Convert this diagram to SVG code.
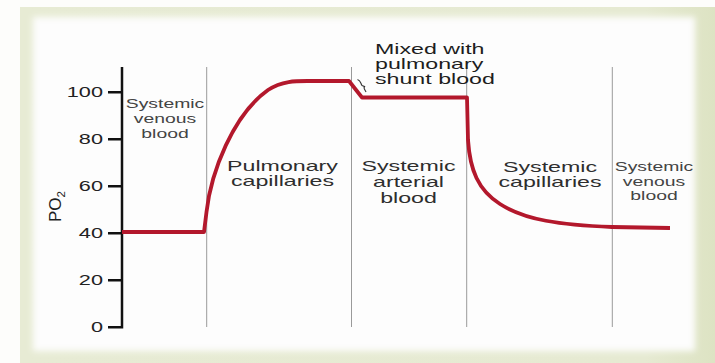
<svg xmlns="http://www.w3.org/2000/svg" width="715" height="363" viewBox="0 0 715 363">
<defs>
<filter id="soft" x="-5%" y="-5%" width="110%" height="110%"><feGaussianBlur stdDeviation="3"/></filter>
<linearGradient id="frameG" x1="0" y1="0" x2="1" y2="0">
<stop offset="0" stop-color="#e7ebd4"/><stop offset="0.9" stop-color="#e6ead2"/><stop offset="1" stop-color="#dde3c3"/>
</linearGradient>
<style>
text{font-family:"Liberation Sans",Arial,sans-serif;}
.tick{font-size:14px;fill:#222;text-anchor:end;}
.lab{font-size:14.5px;fill:#2e2e2e;text-anchor:middle;}
.small{font-size:12.5px;fill:#444;text-anchor:middle;}
.note{font-size:14.5px;fill:#1e1e1e;text-anchor:start;}
.grid{stroke:#9a9a9a;stroke-width:1;}
.axis{stroke:#111;stroke-width:2.5;fill:none;}
.curve{stroke:#b3182c;stroke-width:3.8;fill:none;stroke-linejoin:round;stroke-linecap:butt;}
</style>
</defs>
<rect x="0" y="0" width="715" height="363" fill="#fdfdfb"/>
<rect x="20" y="7" width="695" height="356" fill="url(#frameG)"/>
<rect x="33" y="17" width="662" height="334" fill="#fdfdfd" filter="url(#soft)"/>

<g id="grid">
<line class="grid" x1="206.7" y1="67" x2="206.7" y2="327"/>
<line class="grid" x1="351.5" y1="67" x2="351.5" y2="327"/>
<line class="grid" x1="466.7" y1="67" x2="466.7" y2="327"/>
<line class="grid" x1="612.3" y1="67" x2="612.3" y2="327"/>
</g>

<g id="axis">
<path class="axis" d="M122,67 V328.5 M108,327.3 H122 M108,280.3 H122 M108,233.3 H122 M108,186.3 H122 M108,139.3 H122 M108,92.3 H122"/>
<text class="tick" transform="translate(103,332.3) scale(1.55,1)">0</text>
<text class="tick" transform="translate(103,285.3) scale(1.55,1)">20</text>
<text class="tick" transform="translate(103,238.3) scale(1.55,1)">40</text>
<text class="tick" transform="translate(103,191.3) scale(1.55,1)">60</text>
<text class="tick" transform="translate(103,144.3) scale(1.55,1)">80</text>
<text class="tick" transform="translate(103,97.3) scale(1.55,1)">100</text>
<text transform="translate(61,222) rotate(-90)" style="font-size:17px;fill:#1e1e1e;">PO<tspan font-size="11.5" dy="4">2</tspan></text>
</g>

<g id="connectors">
<path class="curve" d="M122,232 L204,232 L206.5,212 C211,172 233,115 268,90 C283,80 298,81 313,81 L349,81 L362,97.5 L467,97.5 L468,140 C470,170 478,190 500,204 C525,220 560,225 612,227 L670,228"/>
<path d="M357.5,79.5 C361,80.5 360.5,83.5 362,85.5 L364.5,86.5 C363,88 365,90 366,92" stroke="#333" stroke-width="1.1" fill="none"/>
</g>

<g id="node-venous-left">
<text class="small" transform="translate(165,108) scale(1.55,1)">Systemic</text>
<text class="small" transform="translate(165,123) scale(1.55,1)">venous</text>
<text class="small" transform="translate(165,138) scale(1.55,1)">blood</text>
</g>
<g id="node-pulmonary">
<text class="lab" transform="translate(282.5,171) scale(1.6,1)">Pulmonary</text>
<text class="lab" transform="translate(282.5,186) scale(1.6,1)">capillaries</text>
</g>
<g id="node-arterial">
<text class="lab" transform="translate(408.5,171) scale(1.6,1)">Systemic</text>
<text class="lab" transform="translate(408.5,187) scale(1.6,1)">arterial</text>
<text class="lab" transform="translate(408.5,203) scale(1.6,1)">blood</text>
</g>
<g id="node-sys-cap">
<text class="lab" transform="translate(550,171.5) scale(1.6,1)">Systemic</text>
<text class="lab" transform="translate(550,186.5) scale(1.6,1)">capillaries</text>
</g>
<g id="node-venous-right">
<text class="small" transform="translate(654,170.5) scale(1.55,1)">Systemic</text>
<text class="small" transform="translate(654,185.5) scale(1.55,1)">venous</text>
<text class="small" transform="translate(654,200) scale(1.55,1)">blood</text>
</g>
<g id="node-shunt">
<text class="note" transform="translate(375,54) scale(1.6,1)">Mixed with</text>
<text class="note" transform="translate(375,69) scale(1.6,1)">pulmonary</text>
<text class="note" transform="translate(375,84) scale(1.6,1)">shunt blood</text>
</g>
</svg>
